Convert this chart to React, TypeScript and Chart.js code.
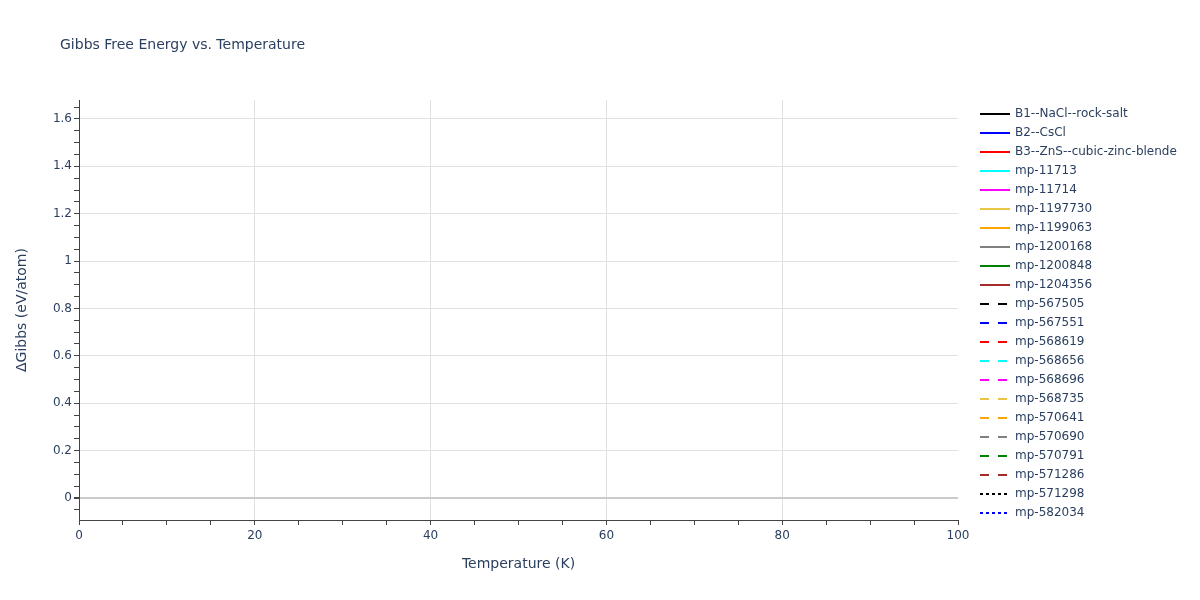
import React, { useEffect, useRef } from 'react';
import { Chart, registerables } from 'chart.js';

Chart.register(...registerables);

// series shown in the legend; the reference plot draws no visible points for them
const seriesNames = [
  'B1--NaCl--rock-salt', 'B2--CsCl', 'B3--ZnS--cubic-zinc-blende',
  'mp-11713', 'mp-11714', 'mp-1197730', 'mp-1199063', 'mp-1200168',
  'mp-1200848', 'mp-1204356', 'mp-567505', 'mp-567551', 'mp-568619',
  'mp-568656', 'mp-568696', 'mp-568735', 'mp-570641', 'mp-570690',
  'mp-570791', 'mp-571286', 'mp-571298', 'mp-582034',
];
const seriesColors = [
  '#000000', '#0000ff', '#ff0000', '#00ffff', '#ff00ff', '#e8c547',
  '#ffa500', '#808080', '#008000', '#a52a2a',
  '#000000', '#0000ff', '#ff0000', '#00ffff', '#ff00ff', '#e8c547',
  '#ffa500', '#808080', '#008000', '#a52a2a',
  '#000000', '#0000ff',
];
const seriesStyles = [
  'solid', 'solid', 'solid', 'solid', 'solid', 'solid', 'solid', 'solid', 'solid', 'solid',
  'dash', 'dash', 'dash', 'dash', 'dash', 'dash', 'dash', 'dash', 'dash', 'dash',
  'dot', 'dot',
];
const seriesValues: { x: number; y: number }[][] = seriesNames.map(() => []);

const xRange = [0, 100];
const yRange = [-0.093, 1.68];

const FONT = '"DejaVu Sans", Verdana, sans-serif';
const TEXT = '#2a3f5f';

const dashFor = (s: string) => (s === 'dash' ? [9, 9] : s === 'dot' ? [3, 3] : []);
const near = (v: number, step: number) => Math.abs(v / step - Math.round(v / step)) < 1e-6;

// plotly-like title and legend, drawn from the chart's own datasets
const decorPlugin = {
  id: 'decor',
  afterDraw(chart: any) {
    const ctx = chart.ctx;
    ctx.save();
    ctx.font = `14px ${FONT}`;
    ctx.fillStyle = TEXT;
    ctx.textBaseline = 'middle';
    ctx.fillText('Gibbs Free Energy vs. Temperature', 60, 45);

    const x0 = chart.chartArea.right + 22;
    ctx.font = `12px ${FONT}`;
    chart.data.datasets.forEach((ds: any, i: number) => {
      const y = 114 + i * 19;
      ctx.beginPath();
      ctx.setLineDash(ds.borderDash || []);
      ctx.lineWidth = ds.borderWidth;
      ctx.strokeStyle = ds.borderColor;
      ctx.moveTo(x0, y);
      ctx.lineTo(x0 + 30, y);
      ctx.stroke();
      ctx.setLineDash([]);
      ctx.fillStyle = TEXT;
      ctx.fillText(ds.label, x0 + 35, y);
    });
    ctx.restore();
  },
};

const App = () => {
  const canvasRef = useRef<HTMLCanvasElement>(null);

  useEffect(() => {
    if (!canvasRef.current) return;
    const chart = new Chart(canvasRef.current, {
      type: 'line',
      data: {
        datasets: seriesNames.map((name, i) => ({
          label: name,
          data: seriesValues[i],
          borderColor: seriesColors[i],
          backgroundColor: seriesColors[i],
          borderWidth: 2,
          borderDash: dashFor(seriesStyles[i]),
          pointRadius: 0,
          fill: false,
        })),
      },
      plugins: [decorPlugin],
      options: {
        animation: false,
        responsive: true,
        maintainAspectRatio: false,
        layout: { padding: { top: 100, left: 8, right: 242, bottom: 0 } },
        plugins: {
          title: { display: false },
          tooltip: { enabled: false },
          legend: { display: false },
        },
        scales: {
          x: {
            type: 'linear',
            min: xRange[0],
            max: xRange[1],
            afterFit: (s: any) => { s.height = 80; },
            title: {
              display: true,
              text: 'Temperature (K)',
              color: TEXT,
              font: { family: FONT, size: 14 },
              padding: { top: 0, bottom: 27 },
            },
            ticks: {
              stepSize: 5,
              autoSkip: false,
              maxRotation: 0,
              padding: 4,
              color: TEXT,
              font: { family: FONT, size: 12 },
              callback: (v: any) => (near(v, 20) ? String(v) : ''),
            },
            grid: {
              tickLength: 5,
              color: (c: any) => {
                const v = c.tick?.value;
                return v !== undefined && near(v, 20) && v > xRange[0] && v < xRange[1] ? '#e1e1e1' : 'rgba(0,0,0,0)';
              },
              tickColor: '#444',
            },
            border: { display: true, color: '#444', width: 1 },
          },
          y: {
            type: 'linear',
            min: yRange[0],
            max: yRange[1],
            afterFit: (s: any) => { s.width = 71; },
            afterBuildTicks: (s: any) => {
              const ticks = [];
              for (let i = Math.ceil(yRange[0] * 20); i <= Math.floor(yRange[1] * 20); i++) {
                ticks.push({ value: Math.round(i * 5) / 100 });
              }
              s.ticks = ticks;
            },
            title: {
              display: true,
              text: 'ΔGibbs (eV/atom)',
              color: TEXT,
              font: { family: FONT, size: 14 },
              padding: { top: 6, bottom: 0 },
            },
            ticks: {
              autoSkip: false,
              padding: 2,
              color: TEXT,
              font: { family: FONT, size: 12 },
              callback: (v: any) => (near(v, 0.2) ? String(Number(Number(v).toFixed(1))) : ''),
            },
            grid: {
              tickLength: 5,
              color: (c: any) => {
                const v = c.tick?.value;
                if (v === undefined) return 'rgba(0,0,0,0)';
                if (Math.abs(v) < 1e-9) return '#cbcbcb';
                return near(v, 0.2) ? '#e1e1e1' : 'rgba(0,0,0,0)';
              },
              lineWidth: (c: any) => (c.tick && Math.abs(c.tick.value) < 1e-9 ? 2 : 1),
              tickColor: '#444',
            },
            border: { display: true, color: '#444', width: 1 },
          },
        },
      },
    });
    return () => chart.destroy();
  }, []);

  return (
    <div style={{ position: 'fixed', left: 0, top: 0, width: 1200, height: 600, background: '#fff' }}>
      <canvas ref={canvasRef}></canvas>
    </div>
  );
};

export default App;
